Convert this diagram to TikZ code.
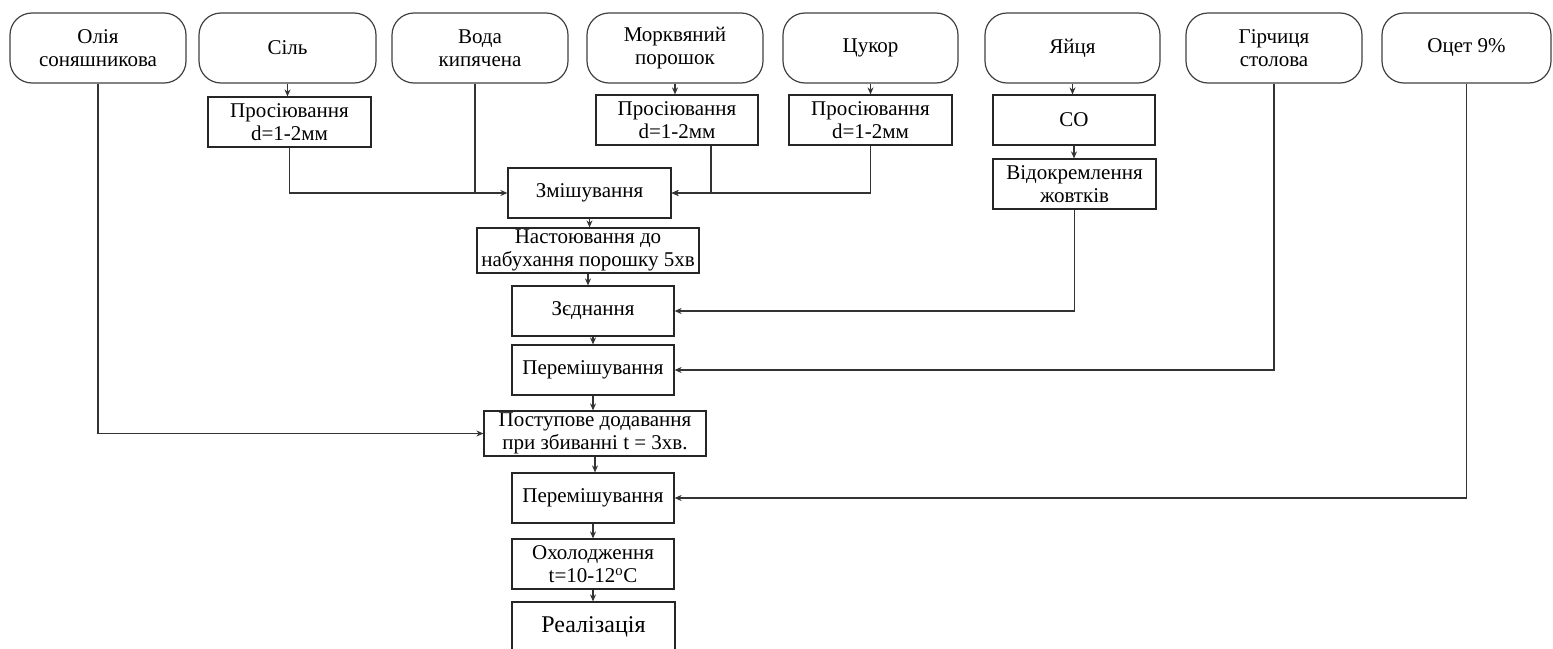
\documentclass[tikz,border=0pt]{standalone}
\usepackage{fontspec}
\setmainfont{Liberation Serif}
\usetikzlibrary{arrows.meta,calc}
\begin{document}
\begin{tikzpicture}[x=1pt,y=-1pt,
  line width=1.2pt,
  every node/.style={font=\fontsize{21}{23.5}\selectfont, align=center, inner sep=0pt},
  src/.style={draw=black!75, rounded corners=22pt, minimum height=70pt},
  proc/.style={draw=black!85, minimum height=50pt, minimum width=163pt},
  arr/.style={draw=black!80, -{Stealth[length=7pt,width=6pt]}},
  ln/.style={draw=black!80}]
\useasboundingbox (0,0) rectangle (1553,648);
% source nodes
\node[src, minimum width=176pt] (olia) at (98,48) {Олія\\соняшникова};
\node[src, minimum width=177pt] (sil) at (287.5,48) {Сіль};
\node[src, minimum width=176pt] (voda) at (480,48) {Вода\\кипячена};
\node[src, minimum width=176pt] (mork) at (675,48) {Морквяний\\порошок};
\node[src, minimum width=175pt] (tsuk) at (870.5,48) {Цукор};
\node[src, minimum width=175pt] (yai) at (1072.5,48) {Яйця};
\node[src, minimum width=176pt] (hirch) at (1274,48) {Гірчиця\\столова};
\node[src, minimum width=169pt] (otset) at (1466.5,48) {Оцет 9\%};
% process nodes
\node[proc] (pros1) at (289.5,122) {Просіювання\\d=1-2мм};
\node[proc, minimum width=162pt] (pros2) at (677,120) {Просіювання\\d=1-2мм};
\node[proc] (pros3) at (870.5,120) {Просіювання\\d=1-2мм};
\node[proc, minimum width=162pt] (co) at (1074,120) {СО};
\node[proc] (vid) at (1074.5,184) {Відокремлення\\жовтків};
\node[proc] (zmish) at (589.5,193) {Змішування};
\node[proc, minimum width=222pt, minimum height=45pt] (nast) at (588,250.5) {Настоювання до\\набухання порошку 5хв};
\node[proc, minimum width=162pt] (zjed) at (593,311) {Зєднання};
\node[proc, minimum width=162pt] (per1) at (593,370) {Перемішування};
\node[proc, minimum width=222pt, minimum height=45pt] (post) at (595,433.5) {Поступове додавання\\при збиванні t = 3хв.};
\node[proc, minimum width=162pt] (per2) at (593,498) {Перемішування};
\node[proc, minimum width=162pt] (okh) at (593,564) {Охолодження\\t=10-12\textsuperscript{o}C};
\node[proc, minimum width=163pt, font=\fontsize{24}{26}\selectfont] (real) at (593.5,627) {Реалізація};
% helper coordinates
\coordinate (vodaout) at ($(voda.south)+(-5,0)$);
\coordinate (p2out) at ($(pros2.south)+(34,0)$);
% connectors
\draw[arr] (sil.south) -- (sil.south |- pros1.north);
\draw[arr] (mork.south) -- (mork.south |- pros2.north);
\draw[arr] (tsuk.south) -- (tsuk.south |- pros3.north);
\draw[arr] (yai.south) -- (yai.south |- co.north);
\draw[arr] (co.south) -- (co.south |- vid.north);
\draw[arr] (pros1.south) |- (zmish.west);
\draw[ln] (vodaout) -- (vodaout |- zmish.west);
\draw[arr] (p2out) |- (zmish.east);
\draw[arr] (pros3.south) |- (zmish.east);
\draw[arr] (vid.south) |- (zjed.east);
\draw[arr] (hirch.south) |- (per1.east);
\draw[arr] (olia.south) |- (post.west);
\draw[arr] (otset.south) |- (per2.east);
\draw[arr] (zmish.south) -- (zmish.south |- nast.north);
\draw[arr] (nast.south) -- (nast.south |- zjed.north);
\draw[arr] (zjed.south) -- (zjed.south |- per1.north);
\draw[arr] (per1.south) -- (per1.south |- post.north);
\draw[arr] (post.south) -- (post.south |- per2.north);
\draw[arr] (per2.south) -- (per2.south |- okh.north);
\draw[arr] (okh.south) -- (okh.south |- real.north);
\end{tikzpicture}
\end{document}
